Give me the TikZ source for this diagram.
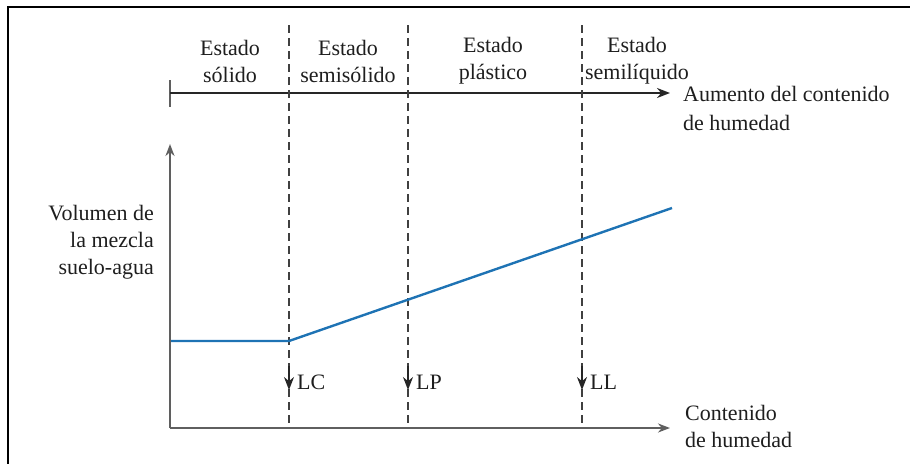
\documentclass[tikz,border=0pt]{standalone}
\usepackage{fontspec}
\setmainfont{Liberation Serif}
\usetikzlibrary{arrows.meta}
\definecolor{curveblue}{RGB}{30,115,180}
\definecolor{axisgray}{RGB}{95,95,95}
\definecolor{txt}{RGB}{30,30,30}
\begin{document}
\begin{tikzpicture}[x=1pt,y=-1pt,
  lbl/.style={font=\fontsize{22}{27}\selectfont, text=txt, inner sep=0pt, align=center},
  lblleft/.style={lbl, align=left, anchor=north west},
  axisline/.style={draw=axisgray, line width=2pt, -{Stealth[length=12pt,width=9pt]}},
  toparrow/.style={draw=black!85, line width=2.2pt, -{Stealth[length=13pt,width=10pt]}},
  limitline/.style={draw=black!75, line width=1.4pt, dash pattern=on 8pt off 5pt},
  limittip/.style={draw=black!85, line width=1.4pt, -{Stealth[length=13pt,width=10pt]}},
  curve/.style={draw=curveblue, line width=2.4pt},
  frameline/.style={draw=black, line width=2.2pt}]
\useasboundingbox (0,0) rectangle (910,464);
% frame (top and left only)
\coordinate (f1) at (8,7);
\coordinate (f2) at (910,7);
\coordinate (f3) at (8,464);
\draw[frameline] (f2) -- (f1) -- (f3);
% top arrow
\coordinate (ta) at (170,93);
\coordinate (tb) at (670,93);
\coordinate (tk1) at (170,80);
\coordinate (tk2) at (170,107);
\draw[draw=axisgray, line width=2pt] (tk1) -- (tk2);
\draw[toparrow] (ta) -- (tb);
% dashed limit lines
\foreach \n/\x in {c/289,p/408,l/582}{
  \coordinate (d\n top) at (\x,25);
  \coordinate (d\n bot) at (\x,428);
  \coordinate (d\n a) at (\x,366);
  \coordinate (d\n b) at (\x,390);
  \draw[limitline] (d\n top) -- (d\n bot);
  \draw[limittip] (d\n a) -- (d\n b);
}
% axes
\coordinate (o) at (170,428);
\coordinate (ytop) at (170,144);
\coordinate (xend) at (670,428);
\draw[axisline] (o) -- (ytop);
\draw[axisline] (o) -- (xend);
% curve
\coordinate (c0) at (171,341);
\coordinate (c1) at (289,341);
\coordinate (c2) at (672,208);
\draw[curve, line join=round] (c0) -- (c1) -- (c2);
% state labels
\node[lbl] (s1) at (230,61) {Estado\\sólido};
\node[lbl] (s2) at (348,61) {Estado\\semisólido};
\node[lbl] (s3) at (493,61) {Estado\\plástico};
\node[lbl] (s4) at (637,61) {Estado\\semilíquido};
% right labels
\node[lblleft, font=\fontsize{22}{29}\selectfont] (aum) at (683,86) {Aumento del contenido\\de humedad};
\node[lblleft] (cont) at (685,405) {Contenido\\de humedad};
% y label
\node[lbl, align=right, anchor=north east] (vol) at (154,205) {Volumen de\\la mezcla\\suelo-agua};
% limit labels
\node[lbl, anchor=west] (lc) at (297,382) {LC};
\node[lbl, anchor=west] (lp) at (416,382) {LP};
\node[lbl, anchor=west] (ll) at (590,382) {LL};
\end{tikzpicture}
\end{document}
